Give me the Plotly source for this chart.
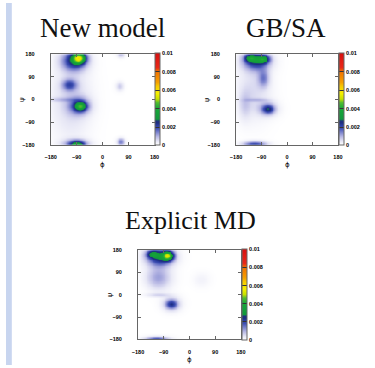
import numpy as np
import plotly.graph_objects as go

# ---------------- data ----------------
TITLES = ["New model", "GB/SA", "Explicit MD"]
TICK_VALS = [-180, -90, 0, 90, 180]
CBAR_VALS = [0, 0.002, 0.004, 0.006, 0.008, 0.01]
CBAR_TEXT = ["0", "0.002", "0.004", "0.006", "0.008", "0.01"]

# density peaks: phi centre, psi centre, height, phi width, psi width
NEW_PHI = [-82, -100, -88, -95, -116, -77, -82, -140, 62, 62, 58, -110]
NEW_PSI = [166, 156, -180, -180, 59, -26, -25, 1, -168, 180, 53, 0]
NEW_AMP = [0.0039, 0.0024, 0.0024, 0.0017, 0.0016, 0.0025, 0.0017, 0.0005, 0.0014, 0.0008, 0.0007, 0.0006]
NEW_SPHI = [16, 30, 17, 30, 18, 14, 25, 40, 9, 9, 9, 45]
NEW_SPSI = [15, 28, 10, 15, 16, 12, 23, 6, 10, 8, 12, 100]

GB_PHI = [-130, -84, -110, -84, -67, -70, -115, -110, -150, -120]
GB_PSI = [166, 162, 155, 85, -38, -35, -180, 0, -20, 40]
GB_AMP = [0.0022, 0.0024, 0.0023, 0.0012, 0.0016, 0.0010, 0.0024, 0.0005, 0.0005, 0.0005]
GB_SPHI = [15, 15, 32, 14, 14, 24, 28, 30, 15, 40]
GB_SPSI = [11, 11, 26, 25, 12, 20, 9, 5, 40, 80]

MD_PHI = [-76, -132, -105, -110, -64, -64, -115, -110, 40]
MD_PSI = [157, 164, 152, 70, -38, -36, -180, 0, 60]
MD_AMP = [0.0036, 0.0018, 0.0026, 0.0011, 0.0015, 0.0009, 0.0022, 0.0005, 0.0002]
MD_SPHI = [14, 15, 32, 30, 14, 22, 28, 30, 20]
MD_SPSI = [13, 11, 24, 32, 12, 20, 8, 6, 20]

PEAKS = [
    (NEW_PHI, NEW_PSI, NEW_AMP, NEW_SPHI, NEW_SPSI),
    (GB_PHI, GB_PSI, GB_AMP, GB_SPHI, GB_SPSI),
    (MD_PHI, MD_PSI, MD_AMP, MD_SPHI, MD_SPSI),
]

grid = np.arange(-180, 181, 3)
PX, PY = np.meshgrid(grid, grid)


def density(phi, psi, amp, sphi, spsi):
    z = np.zeros_like(PX, dtype=float)
    for a, b, h, sa, sb in zip(phi, psi, amp, sphi, spsi):
        z += h * np.exp(-((PX - a) ** 2) / (2 * sa ** 2) - ((PY - b) ** 2) / (2 * sb ** 2))
    return z


COLORSCALE = [
    [0.0, "#ffffff"],
    [0.04, "#e6e6f5"],
    [0.09, "#b8b8e4"],
    [0.14, "#7880cc"],
    [0.18, "#4050b4"],
    [0.215, "#2a3ca0"],
    [0.24, "#1e2e80"],
    [0.26, "#1e3080"],
    [0.28, "#12983c"],
    [0.40, "#18a838"],
    [0.46, "#50bc30"],
    [0.50, "#c8e000"],
    [0.56, "#f5f000"],
    [0.64, "#f8c800"],
    [0.68, "#f5a000"],
    [0.80, "#f07000"],
    [0.84, "#e82818"],
    [1.0, "#d81010"],
]

W, H = 375, 368
# plot areas in pixels: (left, right, top, bottom)
BOXES = [(46, 153, 52, 144), (237, 342, 52, 144), (136, 242, 251, 342)]
TITLE_POS = [(99, 25), (288, 25), (190, 221)]
TITLE_SIZE = [27, 27, 26]

fig = go.Figure()
tick_font = dict(family="Liberation Sans", size=5.5, color="#000", weight="bold")
lab_font = dict(family="DejaVu Sans", size=7, color="#000")

for i, (pk, box) in enumerate(zip(PEAKS, BOXES)):
    l, r, t, b = box
    suffix = "" if i == 0 else str(i + 1)
    z = density(*pk)
    fig.add_trace(go.Heatmap(
        x=grid, y=grid, z=z, zmin=0, zmax=0.01, zsmooth="best",
        colorscale=COLORSCALE, xaxis="x" + suffix, yaxis="y" + suffix,
        hoverinfo="skip",
        colorbar=dict(
            x=(r + 1) / W, xanchor="left", xpad=0, ypad=0,
            y=1 - (t + b) / 2 / H, yanchor="middle",
            len=b - t, lenmode="pixels", thickness=5,
            outlinecolor="#666", outlinewidth=1,
            tickvals=CBAR_VALS, ticktext=CBAR_TEXT,
            ticks="inside", ticklen=5, tickcolor="#333",
            tickfont=tick_font,
        ),
    ))
    ax = dict(
        range=[-180, 180], tickvals=TICK_VALS, ticks="inside", ticklen=3,
        tickcolor="#666", showline=True, linecolor="#666", linewidth=1,
        mirror="ticks", showgrid=False, zeroline=False, tickfont=tick_font,
    )
    fig.layout["xaxis" + suffix] = dict(
        ax, domain=[l / W, r / W], anchor="y" + suffix, ticklabelstandoff=7,
    )
    fig.layout["yaxis" + suffix] = dict(
        ax, domain=[1 - b / H, 1 - t / H], anchor="x" + suffix, ticklabelstandoff=14,
    )
    # axis titles
    fig.add_annotation(text="ϕ", x=(l + r) / 2 / W, y=1 - (b + 21) / H,
                       xref="paper", yref="paper", showarrow=False,
                       xanchor="center", yanchor="middle", font=lab_font)
    fig.add_annotation(text="ψ", x=(l - 29) / W, y=1 - (t + b) / 2 / H,
                       xref="paper", yref="paper", showarrow=False, textangle=-90,
                       xanchor="center", yanchor="middle", font=lab_font)
    tx, ty = TITLE_POS[i]
    fig.add_annotation(
        text=TITLES[i], x=tx / W, y=1 - ty / H, xref="paper", yref="paper",
        showarrow=False, xanchor="center", yanchor="middle",
        font=dict(family="Liberation Serif", size=TITLE_SIZE[i], color="#111"),
    )

fig.add_shape(type="rect", xref="paper", yref="paper", x0=0, x1=6 / W, y0=0, y1=1,
              fillcolor="#c8d5ef", line_width=0, layer="below")

fig.update_layout(
    width=W, height=H, margin=dict(l=0, r=0, t=0, b=0),
    paper_bgcolor="white", plot_bgcolor="white", showlegend=False,
)

fig.write_html(
    "out.html",
    config={"displayModeBar": False},
    post_script="document.body.style.margin='0';document.body.style.padding='0';",
)
